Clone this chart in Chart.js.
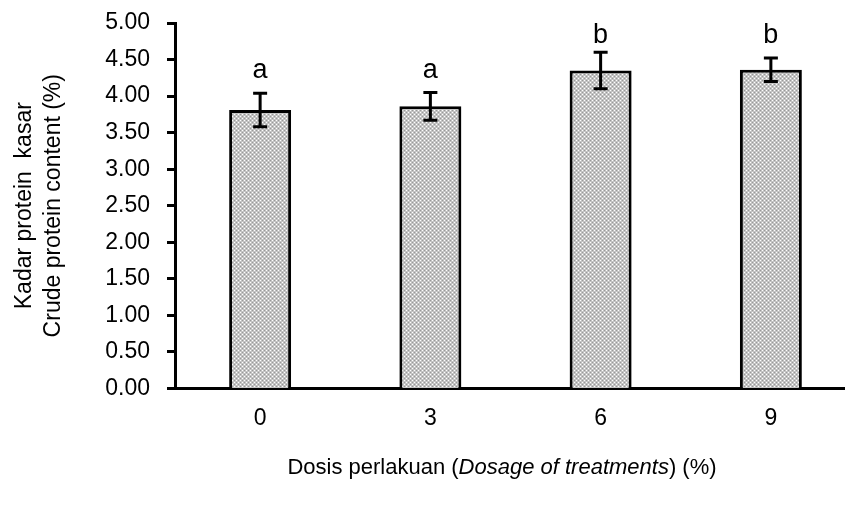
<!DOCTYPE html>
<html>
<head>
<meta charset="utf-8">
<script src="https://cdn.jsdelivr.net/npm/chart.js@4/dist/chart.umd.min.js"></script>
<style>
  body { margin: 0; background: #fff; }
  #wrap { width: 845px; height: 507px; position: relative; }
</style>
</head>
<body>
<div id="wrap"><canvas id="protein"></canvas></div>
<script>
// values
const doses = ['0', '3', '6', '9'];
const protein = [3.81, 3.86, 4.35, 4.36];
const errors = [0.23, 0.19, 0.25, 0.16];
const letters = ['a', 'a', 'b', 'b'];
const letterAt = [4.25, 4.25, 4.73, 4.73];   // baseline of the letters (y units)
const yTitle = ['Kadar protein  kasar', 'Crude protein content (%)'];

const FONT = "'Liberation Sans', Arial, sans-serif";

var ctx = document.getElementById('protein').getContext('2d');

// grey dotted fill like the excel pattern
function dotPattern(c) {
  var p = document.createElement('canvas');
  p.width = 4; p.height = 4;
  var g = p.getContext('2d');
  g.fillStyle = '#c4c4c4'; g.fillRect(0, 0, 4, 4);
  g.fillStyle = '#ffffff'; g.fillRect(0, 0, 1, 1); g.fillRect(2, 2, 1, 1);
  g.fillStyle = '#999999'; g.fillRect(2, 0, 1, 1); g.fillRect(0, 2, 1, 1);
  return c.createPattern(p, 'repeat');
}

// the original plot runs a bit past the right edge of the image
const widenPlot = {
  id: 'widenPlot',
  afterLayout(chart) {
    const x = chart.scales.x, extra = 11;
    x.right += extra;
    x.width += extra;
    chart.chartArea.right += extra;
    chart.chartArea.width += extra;
    x.configure();
  }
};

const errorBars = {
  id: 'errorBars',
  afterDatasetsDraw(chart) {
    const c = chart.ctx, y = chart.scales.y;
    const meta = chart.getDatasetMeta(0);
    c.save();
    c.strokeStyle = '#000';
    c.lineWidth = 3;
    c.fillStyle = '#000';
    c.font = '27px ' + FONT;
    c.textAlign = 'center';
    c.textBaseline = 'alphabetic';
    meta.data.forEach(function (bar, i) {
      var cx = bar.x;
      var top = y.getPixelForValue(protein[i] + errors[i]);
      var bot = y.getPixelForValue(protein[i] - errors[i]);
      c.beginPath();
      c.moveTo(cx, top); c.lineTo(cx, bot);
      c.moveTo(cx - 7, top); c.lineTo(cx + 7, top);
      c.moveTo(cx - 7, bot); c.lineTo(cx + 7, bot);
      c.stroke();
      c.fillText(letters[i], cx, y.getPixelForValue(letterAt[i]));
    });
    c.restore();
  }
};

// x title has an italic part, so it is drawn by hand
const xTitle = {
  id: 'xTitle',
  afterDraw(chart) {
    const c = chart.ctx;
    const parts = [
      ['Dosis perlakuan (', '22px ' + FONT],
      ['Dosage of treatments', 'italic 22px ' + FONT],
      [') (%)', '22px ' + FONT]
    ];
    c.save();
    c.fillStyle = '#000';
    c.textBaseline = 'middle';
    c.textAlign = 'left';
    var total = 0;
    parts.forEach(function (p) { c.font = p[1]; total += c.measureText(p[0]).width; });
    var x = 502 - total / 2;
    var yy = 468;
    parts.forEach(function (p) {
      c.font = p[1];
      c.fillText(p[0], x, yy);
      x += c.measureText(p[0]).width;
    });
    c.restore();
  }
};

var chart = new Chart(ctx, {
  type: 'bar',
  data: {
    labels: doses,
    datasets: [{
      data: protein,
      backgroundColor: dotPattern(ctx),
      borderColor: '#000',
      borderWidth: 3,
      barPercentage: 0.364,
      categoryPercentage: 1
    }]
  },
  options: {
    responsive: true,
    maintainAspectRatio: false,
    animation: false,
    layout: { padding: { left: 0, right: 0, top: 23, bottom: 59 } },
    plugins: {
      legend: { display: false },
      tooltip: { enabled: false }
    },
    scales: {
      x: {
        afterFit: function (scale) {
          scale.paddingLeft = 0;
          scale.paddingRight = 0;
        },
        grid: { display: false, drawTicks: false },
        border: { display: true, color: '#000', width: 3 },
        ticks: { color: '#000', padding: 16, font: { family: FONT, size: 23 } }
      },
      y: {
        min: 0,
        max: 5,
        afterFit: function (scale) {
          scale.width = 175;
          scale.paddingTop = 0;
          scale.paddingBottom = 0;
        },
        grid: { drawOnChartArea: false, drawTicks: true, tickLength: 8, tickWidth: 3, tickColor: '#000' },
        border: { display: true, color: '#000', width: 3 },
        ticks: {
          stepSize: 0.5,
          color: '#000',
          padding: 17,
          font: { family: FONT, size: 23 },
          callback: function (v) { return v.toFixed(2); }
        },
        title: {
          display: true,
          text: yTitle,
          color: '#000',
          font: { family: FONT, size: 23, lineHeight: 1.26 },
          padding: { top: 10, bottom: 25 }
        }
      }
    }
  },
  plugins: [widenPlot, errorBars, xTitle]
});
</script>
</body>
</html>
